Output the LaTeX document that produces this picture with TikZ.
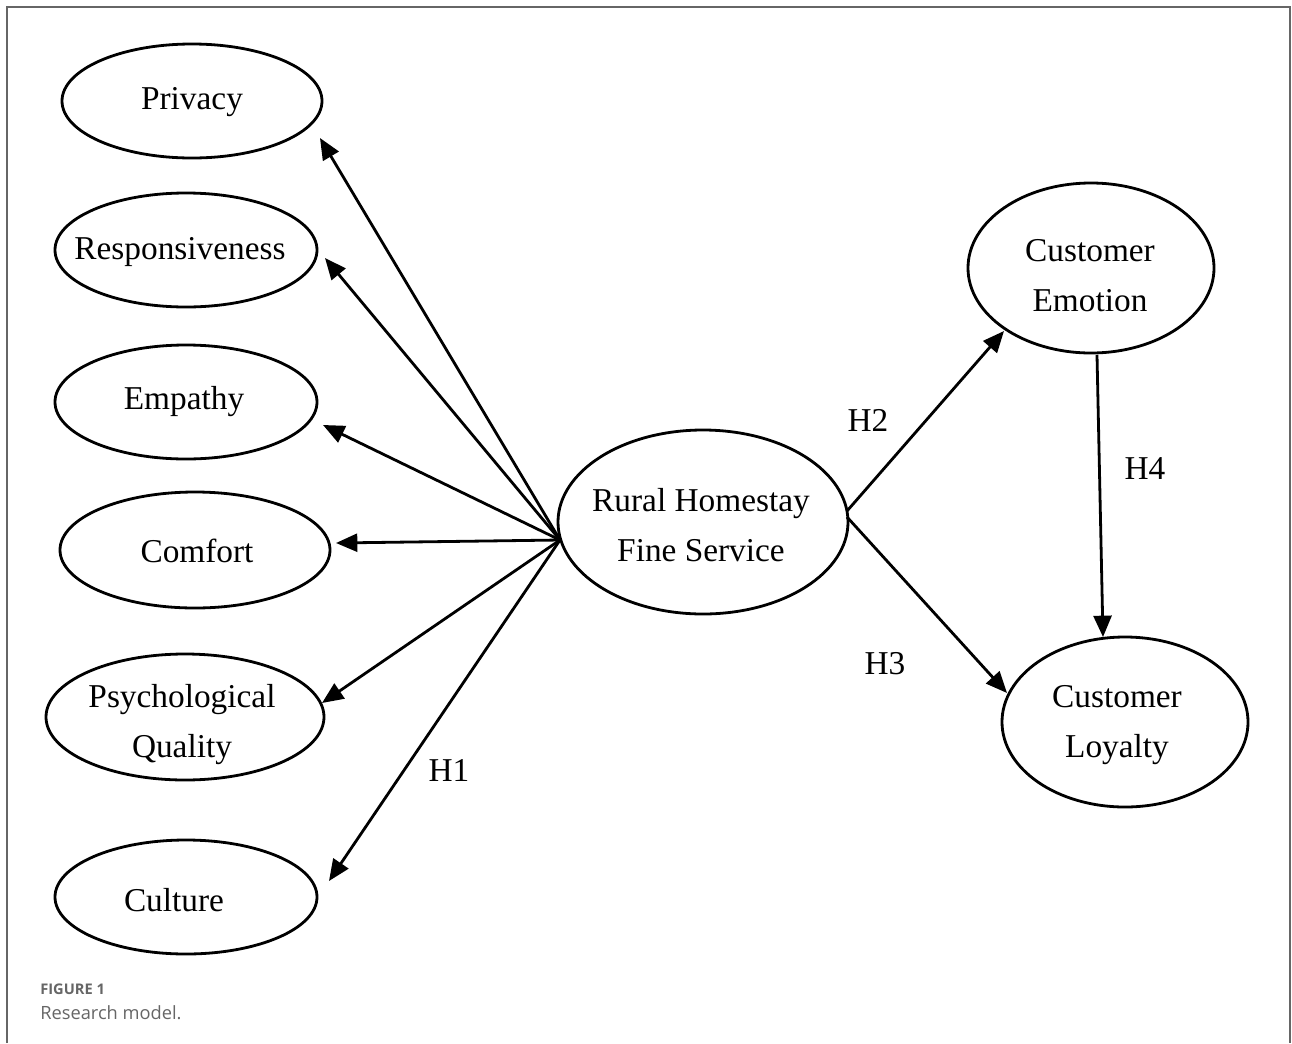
\documentclass[tikz,border=0pt]{standalone}
\usepackage{fontspec}
\setmainfont{Liberation Serif}
\newfontfamily\capfont{Open Sans}
\usetikzlibrary{shapes.geometric,arrows.meta,calc}
\definecolor{capgray}{HTML}{666666}
\definecolor{framegray}{HTML}{666666}
\begin{document}
\begin{tikzpicture}[x=0.75pt,y=-0.75pt,
  ell/.style={draw,ellipse,line width=2.1pt,inner sep=0pt},
  lab/.style={font=\fontsize{25}{37.5}\selectfont,align=center},
  arr/.style={-{Triangle[length=16pt,width=13.5pt]},line width=2.1pt},
  hyp/.style={font=\fontsize{25}{30}\selectfont}]
\useasboundingbox (0,0) rectangle (1292,1043);
% frame
\draw[framegray,line width=1.5pt] (7,1043) -- (7,7) -- (1290,7) -- (1290,1043);
% left nodes
\node[ell,minimum width=195pt,minimum height=85.5pt] (privacy) at (192,101) {};
\node[lab] at (192,102) {Privacy};
\node[ell,minimum width=196.5pt,minimum height=85.5pt] (resp) at (186,250) {};
\node[lab] at (180,252) {Responsiveness};
\node[ell,minimum width=196.5pt,minimum height=85.5pt] (emp) at (186,402) {};
\node[lab] at (184,402) {Empathy};
\node[ell,minimum width=202.5pt,minimum height=87pt] (comf) at (195,550) {};
\node[lab] at (197,551) {Comfort};
\node[ell,minimum width=208.5pt,minimum height=94.5pt] (psy) at (185,717) {};
\node[lab] at (182,725) {Psychological\\Quality};
\node[ell,minimum width=196.5pt,minimum height=85.5pt] (cult) at (186,897) {};
\node[lab] at (174,900) {Culture};
% central and right nodes
\node[ell,minimum width=217.5pt,minimum height=138pt] (rural) at (703,522) {};
\node[lab] at (701,525) {Rural Homestay\\Fine Service};
\node[ell,minimum width=184.5pt,minimum height=127.5pt] (emo) at (1091,268) {};
\node[lab] at (1090,276) {Customer\\Emotion};
\node[ell,minimum width=184.5pt,minimum height=127.5pt] (loy) at (1125,722) {};
\node[lab] at (1117,725) {Customer\\Loyalty};
% hub
\coordinate (hub) at ($(rural.center)+(-143,18)$);
% H1 arrows
\draw[arr] (hub) -- ($(privacy.center)+(128,37)$);
\draw[arr] (hub) -- ($(resp.center)+(139,8)$);
\draw[arr] (hub) -- ($(emp.center)+(137,23)$);
\draw[arr] (hub) -- ($(comf.center)+(141,-7)$);
\draw[arr] (hub) -- ($(psy.center)+(137,-14)$);
\draw[arr] (hub) -- ($(cult.center)+(143,-16)$);
% H2, H3, H4
\draw[arr] ($(rural.center)+(144,-11)$) -- ($(emo.center)+(-87,63)$);
\draw[arr] ($(rural.center)+(144,-5)$) -- ($(loy.center)+(-118,-29)$);
\draw[arr] ($(emo.center)+(6,87)$) -- ($(loy.center)+(-22,-85)$);
% labels
\node[hyp] (h1) at (449,770) {H1};
\node[hyp] (h2) at (868,420) {H2};
\node[hyp] (h3) at (885,664) {H3};
\node[hyp] (h4) at (1145,469) {H4};
% caption
\node[anchor=base west,inner sep=0pt,text=capgray,font=\capfont\bfseries\fontsize{11}{13}\selectfont] (fig) at (40,994) {FIGURE 1};
\node[anchor=base west,inner sep=0pt,text=capgray,font=\capfont\fontsize{13.7}{16}\selectfont] (cap) at (40,1019) {Research model.};
\end{tikzpicture}
\end{document}
